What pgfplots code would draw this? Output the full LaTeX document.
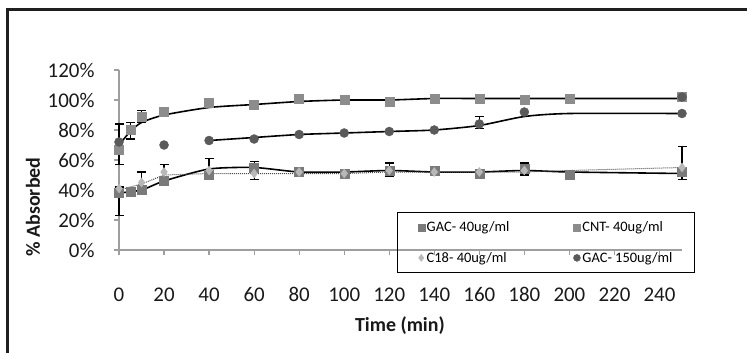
\documentclass[border=0pt]{standalone}
\usepackage{pgfplots}
\pgfplotsset{compat=1.18}
\usepackage{fontspec}
\setmainfont{Carlito}
\definecolor{gacA}{HTML}{7A7A7A}
\definecolor{cnt}{HTML}{8C8C8C}
\definecolor{ceight}{HTML}{B8B8B8}
\definecolor{gacB}{HTML}{5A5A5A}
\begin{document}
\begin{tikzpicture}[x=1bp,y=1bp]
\useasboundingbox (0,0) rectangle (747,352);
\fill[white] (0,0) rectangle (747,352);
\draw[line width=3bp, color=black!88] (7,-5) -- (7,342.5) -- (760,342.5);
\begin{axis}[
  at={(119bp,102bp)}, anchor=south west,
  scale only axis, width=563bp, height=180bp,
  xmin=0, xmax=250, ymin=0, ymax=120,
  axis lines=left, axis line style={-, draw=black!38, line width=1.5bp},
  tick style={draw=black!38, line width=1.2bp},
  tick align=outside, major tick length=5bp,
  xtick={0,20,...,240}, ytick={0,20,...,120},
  yticklabels={0\%,20\%,40\%,60\%,80\%,100\%,120\%},
  /pgf/number format/assume math mode=true,
  ticklabel style={font=\fontsize{21}{23}\selectfont, text=black!90},
  xticklabel style={yshift=-29bp},
  yticklabel style={xshift=-16bp},
  xlabel={Time (min)}, ylabel={\% Absorbed},
  label style={font=\bfseries\fontsize{20}{22}\selectfont, text=black!90},
  xlabel style={at={(axis description cs:0.499,-0.422)}, anchor=center},
  ylabel style={at={(axis description cs:-0.153,0.239)}, anchor=center},
  clip=false,
  legend columns=2,
  legend cell align=left,
  legend image code/.code={\draw[mark size=3.5bp] plot coordinates {(0bp,0bp)};},
  legend style={at={(axis description cs:0.494,0.211)}, anchor=north west,
    draw=black, line width=1.2bp, fill=none,
    font=\fontsize{14.5}{16}\selectfont,
    inner xsep=20bp, inner ysep=7bp, row sep=15bp,
    /tikz/every even column/.append style={column sep=62bp}},
]
% trend lines
\addplot[forget plot, black, line width=1.6bp, smooth, tension=0.4] coordinates {
(0,70)(5,79)(10,85)(20,90)(40,95)(60,97)(80,99)(100,100)(120,100)(140,101)(160,101)(180,101)(200,101)(250,101)};
\addplot[forget plot, black, line width=1.6bp, smooth, tension=0.4] coordinates {
(40,73)(60,75)(80,77)(100,78)(120,79)(140,80)(160,83)(180,89)(200,91)(250,91)};
\addplot[forget plot, black, line width=1.6bp, smooth, tension=0.4] coordinates {
(0,38)(10,40)(20,46)(40,54)(60,55)(80,52)(100,52)(120,53)(140,52)(160,52)(180,53)(200,52)(250,51)};
\addplot[forget plot, black!70, line width=1bp, densely dotted] coordinates {
(0,40)(10,44)(20,50)(40,51)(60,51)(80,51)(100,51)(120,52)(140,52)(160,52)(180,52)(200,53)(250,55)};
% markers
\addplot[only marks, mark=square*, mark size=4.5bp, color=gacA, mark options={line width=0.4bp}] coordinates {
(0,38)(5,39)(10,40)(20,46)(40,50)(60,55)(80,52)(100,51)(120,53)(140,53)(160,51)(180,54)(200,50)(250,52)};
\addlegendentry{GAC- 40ug/ml}
\addplot[only marks, mark=square*, mark size=4.5bp, color=cnt, mark options={line width=0.4bp}] coordinates {
(0,67)(5,80)(10,89)(20,92)(40,98)(60,97)(80,101)(100,100)(120,99)(140,101)(160,101)(180,100)(200,101)(250,102)};
\addlegendentry{CNT- 40ug/ml}
\addplot[only marks, mark=diamond*, mark size=4.5bp, color=ceight, mark options={line width=0.4bp}] coordinates {
(0,41)(10,45)(20,52)(40,53)(60,51)(80,52)(100,51)(120,53)(140,52)(160,52)(180,53)(250,55)};
\addlegendentry{C18- 40ug/ml}
\addplot[only marks, mark=*, mark size=4.5bp, color=gacB, mark options={line width=0.4bp}] coordinates {
(0,72)(20,70)(40,73)(60,74)(80,77)(100,78)(120,79)(140,80)(160,84)(180,92)(250,91)(250,102)};
\addlegendentry{GAC- 150ug/ml}
% error bars
\addplot[forget plot, draw=none, mark=none,
  error bars/.cd, y dir=both, y explicit,
  error bar style={draw=black, line width=1.2bp},
  error mark options={draw=black, rotate=90, mark size=4.5bp, line width=1.2bp}]
coordinates {
(0,38) += (0,4) -= (0,15)
(0,70) += (0,14) -= (0,13)
(5,80) += (0,5) -= (0,6)
(10,89) += (0,4) -= (0,4)
(20,92) += (0,3) -= (0,3)
(10,45) += (0,7) -= (0,5)
(20,52) += (0,5) -= (0,5)
(40,54) += (0,7) -= (0,4)
(60,55) += (0,4) -= (0,8)
(120,53) += (0,5) -= (0,4)
(160,84) += (0,5) -= (0,3)
(180,54) += (0,4) -= (0,4)
(250,52) += (0,17) -= (0,5)
};
\end{axis}
\end{tikzpicture}
\end{document}
